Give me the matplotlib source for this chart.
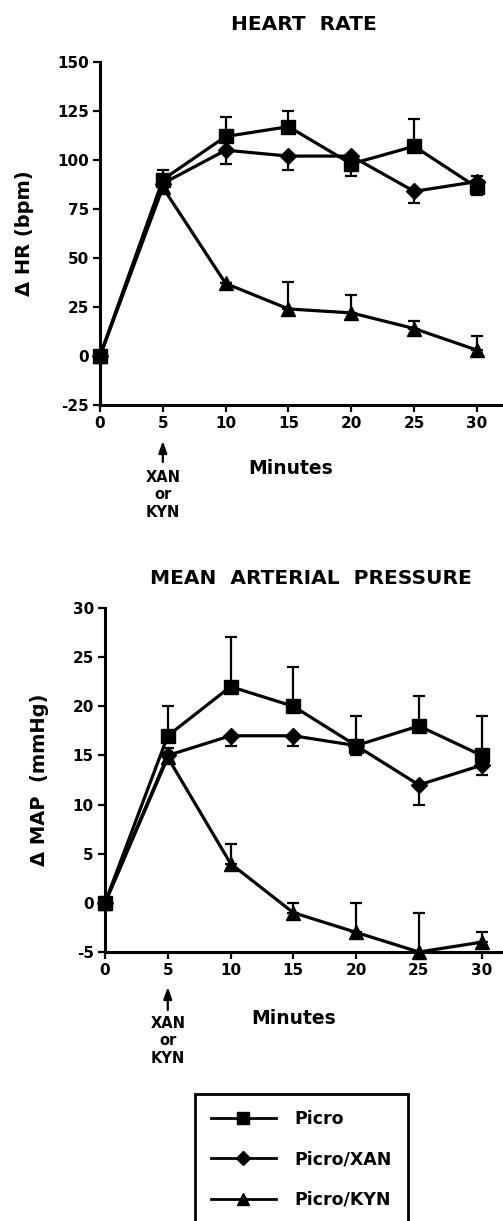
"""
Heart rate / MAP time course (Picro, Picro/XAN, Picro/KYN)
"""
import matplotlib
matplotlib.use("Agg")
import matplotlib.pyplot as plt
from matplotlib.lines import Line2D

plt.rcParams['font.family'] = ['DejaVu Sans']
plt.rcParams['font.weight'] = 'bold'
plt.rcParams['axes.unicode_minus'] = False

# 시간 (분)
minutes = [0, 5, 10, 15, 20, 25, 30]

# Heart rate
hr_picro = [0, 90, 112, 117, 98, 107, 86]
hr_picro_lo = [0, 0, 0, 0, 6, 0, 4]
hr_picro_hi = [0, 5, 10, 8, 0, 14, 0]

hr_xan = [0, 88, 105, 102, 102, 84, 89]
hr_xan_lo = [0, 0, 7, 7, 0, 6, 0]
hr_xan_hi = [0, 0, 0, 0, 0, 0, 3]

hr_kyn = [0, 86, 37, 24, 22, 14, 3]
hr_kyn_lo = [0, 0, 0, 0, 0, 0, 0]
hr_kyn_hi = [0, 0, 0, 14, 9, 4, 7]

# Mean arterial pressure
map_picro = [0, 17, 22, 20, 16, 18, 15]
map_picro_lo = [0, 0, 0, 0, 0, 0, 0]
map_picro_hi = [0, 3, 5, 4, 3, 3, 4]

map_xan = [0, 15, 17, 17, 16, 12, 14]
map_xan_lo = [0, 0, 1, 1, 1, 2, 1]
map_xan_hi = [0, 0, 0, 0, 0, 0, 0]

map_kyn = [0, 14.8, 4, -1, -3, -5, -4]
map_kyn_lo = [0, 0, 0, 0, 0, 0, 0]
map_kyn_hi = [0, 1, 2, 1, 3, 4, 1]

W, H = 503, 1221


def draw_panel(ax, series, yticks, ylim, xmax, ylabel, ylabel_x,
               arrow_tip, arrow_base, note_top):
    for y, lo, hi, marker, ms in series:
        ax.errorbar(minutes, y, yerr=[lo, hi], color='black', linewidth=2.3,
                    marker=marker, markersize=ms, elinewidth=1.6, capsize=4,
                    capthick=1.6, clip_on=False, zorder=3)
    ax.set_xlim(0, xmax)
    ax.set_ylim(*ylim)
    ax.set_xticks(minutes)
    ax.set_yticks(yticks)
    ax.tick_params(axis='both', direction='out', length=5, width=1.6,
                   labelsize=11, pad=3)
    for lbl in ax.get_xticklabels() + ax.get_yticklabels():
        lbl.set_fontweight('bold')
    for s in ['top', 'right']:
        ax.spines[s].set_visible(False)
    for s in ['left', 'bottom']:
        ax.spines[s].set_linewidth(2.2)

    pos = ax.get_position()
    fig.text(ylabel_x / W, (pos.y0 + pos.y1) / 2, ylabel, rotation=90,
             ha='center', va='center', fontsize=14, fontweight='bold')

    # XAN or KYN 화살표
    ax.annotate('', xy=(5, H - arrow_tip), xycoords=('data', 'figure pixels'),
                xytext=(5, H - arrow_base), textcoords=('data', 'figure pixels'),
                arrowprops=dict(arrowstyle='-|>,head_length=0.7,head_width=0.25',
                                color='black', lw=1.6, shrinkA=0, shrinkB=0),
                annotation_clip=False)
    ax.annotate('XAN\nor\nKYN', xy=(5, H - note_top),
                xycoords=('data', 'figure pixels'), ha='center', va='top',
                fontsize=10.5, fontweight='bold', linespacing=1.2,
                annotation_clip=False)


fig = plt.figure(figsize=(W / 100, H / 100), dpi=100)

ax1 = fig.add_axes([100 / W, 1 - 405 / H, (W - 100) / W, 343 / H])
ax2 = fig.add_axes([105 / W, 1 - 952 / H, (W - 105) / W, 344 / H])

draw_panel(ax1,
           [(hr_picro, hr_picro_lo, hr_picro_hi, 's', 10),
            (hr_xan, hr_xan_lo, hr_xan_hi, 'D', 8),
            (hr_kyn, hr_kyn_lo, hr_kyn_hi, '^', 10)],
           [-25, 0, 25, 50, 75, 100, 125, 150], (-25, 150), 32.07,
           '\u0394 HR (bpm)', 24, 441, 462, 470)
draw_panel(ax2,
           [(map_picro, map_picro_lo, map_picro_hi, 's', 10),
            (map_xan, map_xan_lo, map_xan_hi, 'D', 8),
            (map_kyn, map_kyn_lo, map_kyn_hi, '^', 10)],
           [-5, 0, 5, 10, 15, 20, 25, 30], (-5, 30), 31.7,
           '\u0394 MAP  (mmHg)', 40, 987, 1010, 1016)

# 제목
fig.text(304 / W, 1 - 24 / H, 'HEART  RATE', ha='center',
         va='center', fontsize=14.5, fontweight='bold')
fig.text(311 / W, 1 - 578 / H, 'MEAN  ARTERIAL  PRESSURE',
         ha='center', va='center', fontsize=14.5, fontweight='bold')

# x 라벨
fig.text(291 / W, 1 - 469 / H, 'Minutes', ha='center', va='center',
         fontsize=13.5, fontweight='bold')
fig.text(294 / W, 1 - 1019 / H, 'Minutes', ha='center', va='center',
         fontsize=13.5, fontweight='bold')

# 범례
handles = [
    Line2D([0], [0], color='black', lw=2.0, marker='s', markersize=9, label='Picro'),
    Line2D([0], [0], color='black', lw=2.0, marker='D', markersize=7, label='Picro/XAN'),
    Line2D([0], [0], color='black', lw=2.0, marker='^', markersize=9, label='Picro/KYN'),
]
leg = fig.legend(handles=handles, loc='upper left',
                 bbox_to_anchor=(195 / W, 1 - 1094 / H), borderaxespad=0,
                 fontsize=12.5, handlelength=3.75, labelspacing=1.3,
                 borderpad=0.9, handletextpad=1.1, fancybox=False,
                 edgecolor='black', framealpha=1)
leg.get_frame().set_linewidth(2.0)
for t in leg.get_texts():
    t.set_fontweight('bold')

plt.savefig('out.png', dpi=100)
plt.close()
